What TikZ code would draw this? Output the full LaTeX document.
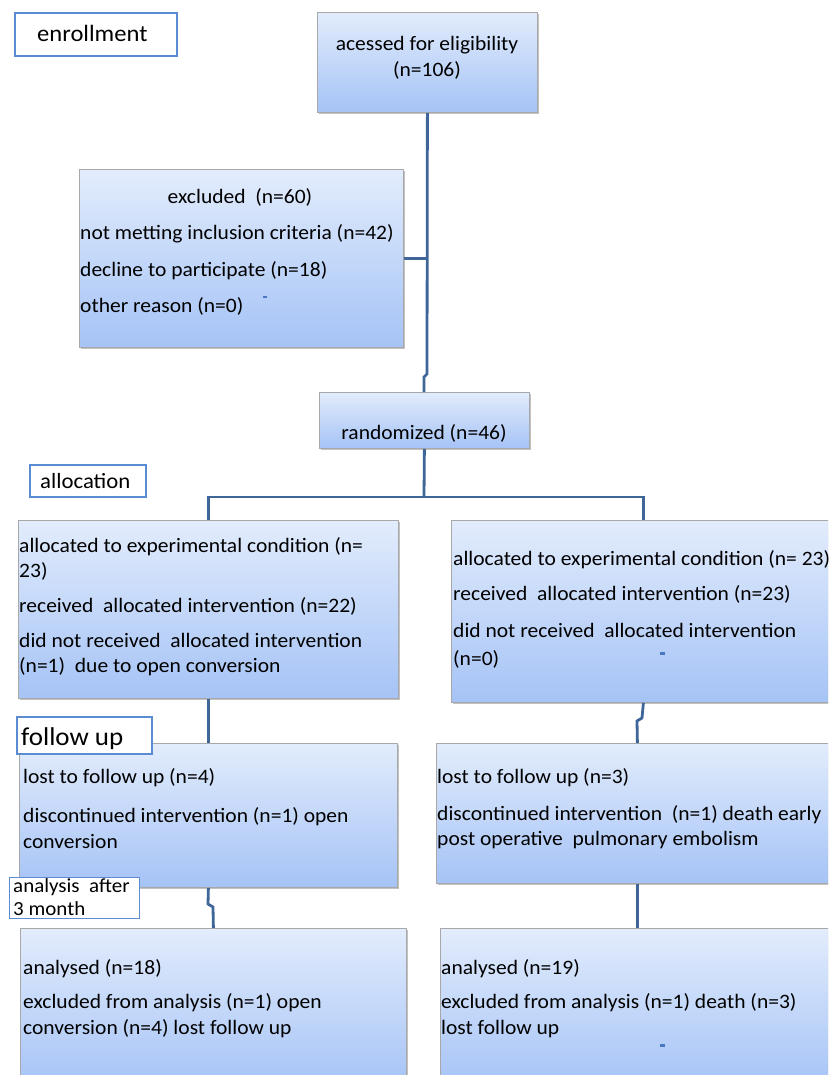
\documentclass[tikz,border=0pt]{standalone}
\usepackage{fontspec}
\setmainfont{Carlito}[FakeStretch=1.05]
\usetikzlibrary{shadows}
\definecolor{topc}{HTML}{E2ECFC}
\definecolor{botc}{HTML}{A5C3F6}
\definecolor{edgec}{HTML}{A8A8A8}
\definecolor{linec}{HTML}{3F6699}
\definecolor{labc}{HTML}{5B8BD0}
\definecolor{dashc}{HTML}{4A78C0}
\begin{document}
\begin{tikzpicture}[x=1pt,y=-1pt,
  flowbox/.style={draw=edgec, line width=0.8pt, top color=topc, bottom color=botc,
    drop shadow={shadow xshift=1.5pt, shadow yshift=-2pt, fill=black!40, opacity=0.6},
    anchor=north west, inner sep=0pt},
  labbox/.style={draw=labc, line width=1.6pt, fill=white, anchor=north west, inner sep=0pt},
  txt/.style={anchor=base west, inner sep=0pt, font=\fontsize{20.5}{24}\selectfont},
  ctxt/.style={anchor=base, inner sep=0pt, font=\fontsize{20.5}{24}\selectfont},
  conn/.style={draw=linec, line width=2.8pt},
  tick/.style={fill=dashc}]
\useasboundingbox (0,0) rectangle (828,1075);
\clip (0,0) rectangle (828,1075);

% connector bend points
\coordinate (j1a) at (427,374);
\coordinate (j1b) at (424,377);
\coordinate (split) at (424,497);
\coordinate (j2a) at (642,718);
\coordinate (j2b) at (637,721);
\coordinate (j3a) at (208,904);
\coordinate (j3b) at (213,907);

% flow boxes
\node[flowbox, minimum width=220pt, minimum height=100pt] (acc) at (317,12) {};
\node[flowbox, minimum width=324pt, minimum height=178pt] (excl) at (79,169) {};
\node[flowbox, minimum width=210pt, minimum height=56pt] (rand) at (319,392) {};
\node[flowbox, minimum width=380pt, minimum height=178pt] (al1) at (18,520) {};
\node[flowbox, minimum width=384pt, minimum height=182pt] (al2) at (451,520) {};
\node[flowbox, minimum width=378pt, minimum height=144pt] (fu1) at (19,743) {};
\node[flowbox, minimum width=402pt, minimum height=140pt] (fu2) at (436,743) {};
\node[flowbox, minimum width=386pt, minimum height=160pt] (an1) at (20,928) {};
\node[flowbox, minimum width=394pt, minimum height=160pt] (an2) at (440,928) {};

\draw[conn] (acc.south) -- (j1a) -- (j1b) -- (rand.north -| j1b);
\draw[conn] (excl.east) -- (excl.east -| acc.south);
\draw[conn] (rand.south) -- (split);
\draw[conn] (al1.north) |- (split) -| (al2.north);
\draw[conn] (al1.south) -- (fu1.north);
\draw[conn] (al2.south) -- (j2a) -- (j2b) -- (fu2.north);
\draw[conn] (fu1.south) -- (j3a) -- (j3b) -- (an1.north);
\draw[conn] (fu2.south) -- (an2.north);

% texts
\node[ctxt] (t1) at (427,51) {acessed for eligibility};
\node[ctxt] (t2) at (427,77) {(n=106)};

\node[ctxt] (e0) at (240,204) {excluded\ \ (n=60)};
\node[txt] (e1) at (80,240) {not metting inclusion criteria (n=42)};
\node[txt] (e2) at (80,276) {decline to participate (n=18)};
\node[txt] (e3) at (80,312) {other reason (n=0)};
\fill[tick] (263,296) rectangle (267,298);

\node[ctxt] (r0) at (424,439) {randomized (n=46)};

\node[txt] (a1) at (19,552) {allocated to experimental condition (n=};
\node[txt] (a2) at (19,577) {23)};
\node[txt] (a3) at (19,612) {received\ \ allocated intervention (n=22)};
\node[txt] (a4) at (19,647) {did not received\ \ allocated intervention};
\node[txt] (a5) at (19,672) {(n=1)\ \ due to open conversion};

\node[txt] (b1) at (453,565) {allocated to experimental condition (n= 23)};
\node[txt] (b2) at (453,600) {received\ \ allocated intervention (n=23)};
\node[txt] (b3) at (453,637) {did not received\ \ allocated intervention};
\node[txt] (b4) at (453,665) {(n=0)};
\fill[tick] (660,652) rectangle (665,655);

\node[txt] (f1) at (23,783) {lost to follow up (n=4)};
\node[txt] (f2) at (23,822) {discontinued intervention (n=1) open};
\node[txt] (f3) at (23,848) {conversion};

\node[txt] (g1) at (437,783) {lost to follow up (n=3)};
\node[txt] (g2) at (437,820) {discontinued intervention\ \ (n=1) death early};
\node[txt] (g3) at (437,845) {post operative\ \ pulmonary embolism};

\node[txt] (h1) at (23,974) {analysed (n=18)};
\node[txt] (h2) at (23,1008) {excluded from analysis (n=1) open};
\node[txt] (h3) at (23,1034) {conversion (n=4) lost follow up};

\node[txt] (k1) at (441,974) {analysed (n=19)};
\node[txt] (k2) at (441,1008) {excluded from analysis (n=1) death (n=3)};
\node[txt] (k3) at (441,1034) {lost follow up};
\fill[tick] (660,1044) rectangle (665,1047);

% stage labels
\node[labbox, minimum width=162pt, minimum height=43pt] (enr) at (14,12) {};
\node[anchor=base west, inner sep=0pt, font=\fontsize{23.4}{28}\selectfont] (enrt) at (37,42) {enrollment};
\node[labbox, minimum width=116pt, minimum height=32pt] (alc) at (29,464) {};
\node[anchor=base west, inner sep=0pt, font=\fontsize{21.7}{26}\selectfont] (alct) at (40,488) {allocation};
\node[labbox, minimum width=135pt, minimum height=37pt] (fol) at (16,716) {};
\node[anchor=base west, inner sep=0pt, font=\fontsize{25.7}{30}\selectfont] (folt) at (21,745) {follow up};
\node[labbox, minimum width=130pt, minimum height=41pt, line width=1.2pt] (ana) at (9,877) {};
\node[anchor=base west, inner sep=0pt, font=\fontsize{20}{24}\selectfont] (anat1) at (13,892) {analysis\ \ after};
\node[anchor=base west, inner sep=0pt, font=\fontsize{20}{24}\selectfont] (anat2) at (13,915) {3 month};
\end{tikzpicture}
\end{document}
